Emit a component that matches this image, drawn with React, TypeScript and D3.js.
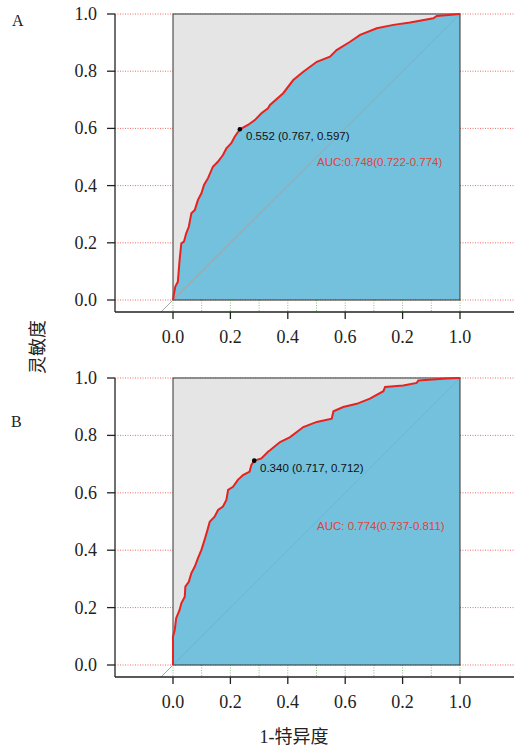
import React, { useEffect, useRef } from 'react';
import * as d3 from 'd3';

// ROC curves (1 - specificity, sensitivity)
const fprA = [0, 0.003, 0.008, 0.017, 0.023, 0.029, 0.038, 0.046, 0.055, 0.064, 0.076, 0.087, 0.099, 0.108, 0.122, 0.139, 0.157, 0.174, 0.186, 0.203, 0.215, 0.233, 0.261, 0.285, 0.308, 0.331, 0.338, 0.384, 0.419, 0.454, 0.501, 0.547, 0.57, 0.617, 0.652, 0.71, 0.768, 0.826, 0.907, 0.919, 1];
const tprA = [0, 0.02, 0.047, 0.064, 0.14, 0.198, 0.204, 0.233, 0.256, 0.303, 0.315, 0.35, 0.373, 0.402, 0.426, 0.466, 0.484, 0.507, 0.53, 0.548, 0.571, 0.597, 0.612, 0.629, 0.653, 0.67, 0.682, 0.723, 0.769, 0.798, 0.833, 0.851, 0.874, 0.903, 0.927, 0.95, 0.962, 0.97, 0.985, 0.993, 1];

const fprB = [0, 0, 0.006, 0.011, 0.023, 0.029, 0.041, 0.043, 0.055, 0.064, 0.076, 0.087, 0.099, 0.11, 0.12, 0.128, 0.145, 0.157, 0.174, 0.186, 0.192, 0.209, 0.226, 0.244, 0.267, 0.273, 0.283, 0.308, 0.331, 0.338, 0.373, 0.408, 0.454, 0.501, 0.553, 0.559, 0.593, 0.64, 0.686, 0.733, 0.739, 0.802, 0.849, 0.855, 0.954, 1];
const tprB = [0, 0.099, 0.122, 0.163, 0.192, 0.215, 0.238, 0.273, 0.29, 0.32, 0.343, 0.372, 0.401, 0.436, 0.47, 0.499, 0.517, 0.54, 0.552, 0.575, 0.61, 0.621, 0.645, 0.662, 0.674, 0.697, 0.712, 0.72, 0.743, 0.748, 0.777, 0.794, 0.829, 0.847, 0.858, 0.884, 0.899, 0.91, 0.928, 0.954, 0.969, 0.974, 0.983, 0.991, 0.998, 1];

// best cut-off points
const cutA = [0.233, 0.597];
const cutB = [0.283, 0.712];
const cutLabels = ['0.552 (0.767, 0.597)', '0.340 (0.717, 0.712)'];
const aucLabels = ['AUC:0.748(0.722-0.774)', 'AUC: 0.774(0.737-0.811)'];
const panelLetters = ['A', 'B'];

const yTicks = [0, 0.2, 0.4, 0.6, 0.8, 1.0];
const yTickLabels = ['0.0', '0.2', '0.4', '0.6', '0.8', '1.0'];
const xTicks = [0, 0.2, 0.4, 0.6, 0.8, 1.0];
const xTickLabels = ['0.0', '0.2', '0.4', '0.6', '0.2', '1.0'];
const xGrid = [0, 0.1, 0.2, 0.3, 0.4, 0.5, 0.6, 0.7, 0.8, 0.9, 1.0];

const serif = '"Liberation Serif", "DejaVu Serif", "Noto Sans CJK SC", serif';
const sans = '"Liberation Sans", Arial, sans-serif';

export default function App() {
  const ref = useRef(null);

  useEffect(() => {
    const svg = d3.select(ref.current);
    svg.selectAll('*').remove();

    const x = d3.scaleLinear().domain([0, 1]).range([173, 460]);
    const axisLeftX = 115;
    const axisRightX = 514;

    const panels = [
      { fpr: fprA, tpr: tprA, cut: cutA, top: 14, bottom: 300, annoAuc: [317, 166], annoCut: [246, 140] },
      { fpr: fprB, tpr: tprB, cut: cutB, top: 378, bottom: 665, annoAuc: [317, 530], annoCut: [260, 472] },
    ];

    panels.forEach((p, i) => {
      const y = d3.scaleLinear().domain([0, 1]).range([p.bottom, p.top]);
      const axisY = p.bottom + 12;
      const g = svg.append('g');

      // dotted grid, mostly covered by the box
      g.selectAll('.hgrid').data(yTicks).enter().append('line')
        .attr('x1', axisLeftX).attr('x2', axisRightX)
        .attr('y1', d => y(d)).attr('y2', d => y(d))
        .attr('stroke', '#ee6b63').attr('stroke-width', 1).attr('stroke-dasharray', '1,1.5');
      g.selectAll('.vgrid').data(xGrid).enter().append('line')
        .attr('x1', d => x(d)).attr('x2', d => x(d))
        .attr('y1', p.bottom).attr('y2', axisY)
        .attr('stroke', '#7cc66f').attr('stroke-width', 1).attr('stroke-dasharray', '1,1.5');

      g.append('rect')
        .attr('x', x(0)).attr('y', y(1))
        .attr('width', x(1) - x(0)).attr('height', y(0) - y(1))
        .attr('fill', '#e5e5e5');

      const pts = p.fpr.map((f, k) => [f, p.tpr[k]]);

      const area = d3.area()
        .x(d => x(d[0]))
        .y0(y(0))
        .y1(d => y(d[1]));
      g.append('path').datum(pts).attr('d', area).attr('fill', '#74c1dd');

      g.append('rect')
        .attr('x', x(0)).attr('y', y(1))
        .attr('width', x(1) - x(0)).attr('height', y(0) - y(1))
        .attr('fill', 'none').attr('stroke', '#333').attr('stroke-width', 1);

      // chance diagonal
      g.append('line')
        .attr('x1', x(-0.042)).attr('y1', y(-0.042))
        .attr('x2', x(1)).attr('y2', y(1))
        .attr('stroke', '#a3a3a3').attr('stroke-width', 1);

      const line = d3.line()
        .x(d => x(d[0]))
        .y(d => y(d[1]));
      g.append('path').datum(pts).attr('d', line)
        .attr('fill', 'none').attr('stroke', '#e8221e').attr('stroke-width', 2);

      // axes
      g.append('line')
        .attr('x1', axisLeftX).attr('x2', axisLeftX)
        .attr('y1', y(1)).attr('y2', axisY)
        .attr('stroke', '#222').attr('stroke-width', 1.3);
      g.append('line')
        .attr('x1', axisLeftX).attr('x2', axisRightX)
        .attr('y1', axisY).attr('y2', axisY)
        .attr('stroke', '#222').attr('stroke-width', 1.3);

      g.selectAll('.ytick').data(yTicks).enter().append('line')
        .attr('x1', axisLeftX - 8).attr('x2', axisLeftX)
        .attr('y1', d => y(d)).attr('y2', d => y(d))
        .attr('stroke', '#222').attr('stroke-width', 1.3);
      g.selectAll('.ylab').data(yTicks).enter().append('text')
        .attr('x', axisLeftX - 18).attr('y', d => y(d) + 6)
        .attr('text-anchor', 'end')
        .attr('font-family', serif).attr('font-size', 18).attr('fill', '#222')
        .text((d, k) => yTickLabels[k]);

      g.selectAll('.xtick').data(xTicks).enter().append('line')
        .attr('x1', d => x(d)).attr('x2', d => x(d))
        .attr('y1', axisY).attr('y2', axisY + 7)
        .attr('stroke', '#222').attr('stroke-width', 1.3);
      g.selectAll('.xlab').data(xTicks).enter().append('text')
        .attr('x', d => x(d)).attr('y', axisY + 31)
        .attr('text-anchor', 'middle')
        .attr('font-family', serif).attr('font-size', 18).attr('fill', '#222')
        .text((d, k) => xTickLabels[k]);

      // cut-off point and labels
      g.append('circle')
        .attr('cx', x(p.cut[0])).attr('cy', y(p.cut[1])).attr('r', 2.3)
        .attr('fill', '#000');
      g.append('text')
        .attr('x', p.annoCut[0]).attr('y', p.annoCut[1])
        .attr('font-family', sans).attr('font-size', 11.5).attr('fill', '#111')
        .text(cutLabels[i]);
      g.append('text')
        .attr('x', p.annoAuc[0]).attr('y', p.annoAuc[1])
        .attr('font-family', sans).attr('font-size', 11.5).attr('fill', '#e2413a')
        .text(aucLabels[i]);
    });

    svg.append('text').attr('x', 12).attr('y', 26)
      .attr('font-family', serif).attr('font-size', 16).attr('fill', '#222')
      .text(panelLetters[0]);
    svg.append('text').attr('x', 11).attr('y', 427)
      .attr('font-family', serif).attr('font-size', 16).attr('fill', '#222')
      .text(panelLetters[1]);

    // axis titles
    svg.append('text')
      .attr('transform', 'translate(44, 347) rotate(-90)')
      .attr('text-anchor', 'middle')
      .attr('font-family', serif).attr('font-size', 18).attr('fill', '#222')
      .text('灵敏度');
    svg.append('text')
      .attr('x', 294).attr('y', 743)
      .attr('text-anchor', 'middle')
      .attr('font-family', serif).attr('font-size', 18).attr('fill', '#222')
      .text('1-特异度');
  }, []);

  return (
    <svg ref={ref} width={514} height={748}
      style={{ position: 'absolute', left: 0, top: 0, background: '#fff' }} />
  );
}
